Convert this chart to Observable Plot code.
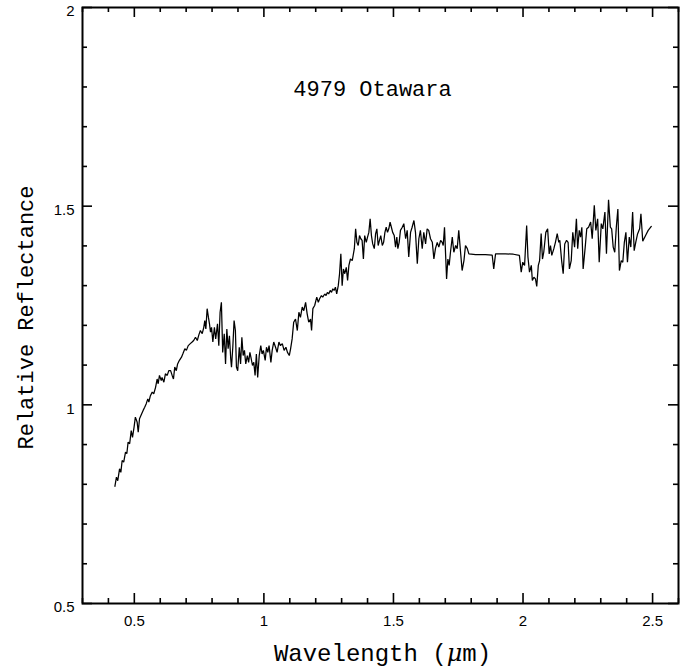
<!DOCTYPE html>
<html>
<head>
<meta charset="utf-8">
<script src="https://cdn.jsdelivr.net/npm/d3@7"></script>
<script src="https://cdn.jsdelivr.net/npm/@observablehq/plot@0.6"></script>
<style>
  html, body { margin: 0; padding: 0; background: white; }
</style>
</head>
<body>
<div id="chart"></div>
<script>
const wavelength = [
0.425,0.431,0.436,0.443,0.448,0.453,0.459,0.466,0.471,0.476,0.482,0.488,0.493,0.499,0.504,0.511,0.515,0.520,0.528,0.534,
0.540,0.546,0.552,0.556,0.562,0.569,0.575,0.582,0.588,0.592,0.597,0.604,0.607,0.614,0.620,0.627,0.633,0.640,0.646,0.651,
0.656,0.662,0.667,0.674,0.682,0.687,0.695,0.701,0.708,0.716,0.723,0.729,0.736,0.743,0.749,0.755,0.762,0.768,0.772,0.776,
0.781,0.786,0.790,0.794,0.798,0.803,0.809,0.814,0.821,0.826,0.831,0.836,0.841,0.847,0.852,0.857,0.862,0.867,0.872,0.875,
0.880,0.885,0.890,0.894,0.899,0.905,0.910,0.915,0.920,0.925,0.930,0.936,0.941,0.946,0.951,0.956,0.961,0.966,0.971,0.976,
0.982,0.988,0.993,0.998,1.005,1.010,1.015,1.020,1.027,1.032,1.038,1.045,1.051,1.058,1.064,1.071,1.078,1.085,1.091,1.098,
1.103,1.109,1.115,1.122,1.129,1.135,1.141,1.148,1.154,1.161,1.167,1.173,1.180,1.184,1.189,1.196,1.204,1.210,1.215,1.222,
1.227,1.235,1.240,1.245,1.250,1.256,1.261,1.266,1.271,1.276,1.281,1.287,1.292,1.297,1.302,1.307,1.312,1.318,1.323,1.328,
1.334,1.341,1.349,1.354,1.359,1.364,1.369,1.374,1.379,1.384,1.389,1.395,1.400,1.405,1.410,1.415,1.420,1.426,1.431,1.436,
1.441,1.446,1.451,1.457,1.462,1.467,1.472,1.477,1.482,1.487,1.492,1.497,1.503,1.508,1.513,1.517,1.522,1.527,1.534,1.540,
1.547,1.553,1.559,1.566,1.572,1.579,1.585,1.592,1.598,1.604,1.611,1.617,1.624,1.630,1.636,1.643,1.650,1.656,1.662,1.669,
1.675,1.682,1.688,1.692,1.697,1.705,1.710,1.715,1.720,1.727,1.733,1.740,1.746,1.752,1.759,1.765,1.772,1.778,1.785,1.791,
1.817,1.855,1.881,1.887,1.894,1.932,1.963,1.986,1.993,1.999,2.006,2.014,2.019,2.025,2.032,2.036,2.042,2.048,2.053,2.059,
2.064,2.070,2.075,2.080,2.088,2.095,2.101,2.106,2.111,2.119,2.125,2.132,2.138,2.142,2.149,2.155,2.161,2.168,2.174,2.179,
2.186,2.192,2.199,2.206,2.211,2.217,2.222,2.227,2.232,2.240,2.246,2.253,2.261,2.267,2.275,2.281,2.288,2.294,2.302,2.308,
2.316,2.322,2.330,2.337,2.342,2.348,2.354,2.360,2.366,2.372,2.379,2.385,2.391,2.397,2.403,2.410,2.416,2.423,2.429,2.435,
2.442,2.450,2.455,2.462,2.473,2.483,2.495
];
const reflectance = [
0.795,0.818,0.809,0.839,0.830,0.860,0.856,0.881,0.877,0.906,0.902,0.935,0.918,0.944,0.969,0.956,0.931,0.965,0.977,0.986,
0.994,1.003,1.015,1.007,1.023,1.032,1.028,1.044,1.065,1.053,1.074,1.061,1.069,1.057,1.078,1.074,1.086,1.086,1.074,1.065,
1.095,1.086,1.103,1.112,1.120,1.128,1.141,1.137,1.149,1.154,1.158,1.162,1.170,1.162,1.176,1.187,1.179,1.195,1.212,1.191,
1.242,1.220,1.204,1.183,1.195,1.158,1.195,1.166,1.204,1.149,1.233,1.258,1.132,1.179,1.103,1.191,1.141,1.174,1.116,1.095,
1.145,1.212,1.187,1.095,1.086,1.145,1.103,1.170,1.124,1.137,1.103,1.124,1.107,1.132,1.116,1.099,1.107,1.074,1.128,1.069,
1.124,1.149,1.128,1.137,1.112,1.145,1.132,1.149,1.107,1.137,1.158,1.145,1.132,1.158,1.149,1.154,1.137,1.145,1.132,1.124,
1.141,1.166,1.208,1.216,1.187,1.233,1.220,1.246,1.237,1.258,1.229,1.208,1.216,1.187,1.242,1.250,1.271,1.258,1.267,1.275,
1.271,1.279,1.275,1.283,1.279,1.288,1.283,1.292,1.288,1.296,1.279,1.300,1.330,1.380,1.300,1.342,1.330,1.346,1.313,1.351,
1.367,1.363,1.393,1.443,1.409,1.401,1.426,1.418,1.414,1.367,1.426,1.409,1.422,1.434,1.468,1.426,1.405,1.393,1.430,1.443,
1.401,1.414,1.426,1.401,1.409,1.434,1.447,1.434,1.443,1.460,1.447,1.434,1.426,1.397,1.422,1.393,1.409,1.439,1.447,1.456,
1.418,1.439,1.372,1.434,1.447,1.464,1.434,1.355,1.418,1.439,1.393,1.434,1.405,1.443,1.439,1.418,1.409,1.367,1.393,1.409,
1.397,1.414,1.409,1.401,1.447,1.317,1.367,1.351,1.384,1.422,1.384,1.401,1.393,1.439,1.384,1.338,1.363,1.401,1.393,1.380,
1.378,1.378,1.377,1.342,1.380,1.380,1.379,1.376,1.334,1.359,1.351,1.451,1.372,1.334,1.351,1.313,1.321,1.317,1.298,1.351,
1.363,1.431,1.367,1.384,1.434,1.443,1.380,1.401,1.376,1.393,1.409,1.431,1.409,1.414,1.363,1.330,1.405,1.414,1.409,1.342,
1.363,1.434,1.397,1.468,1.393,1.439,1.422,1.447,1.342,1.397,1.443,1.447,1.460,1.418,1.502,1.439,1.468,1.359,1.456,1.443,
1.485,1.380,1.516,1.447,1.443,1.397,1.384,1.447,1.493,1.338,1.363,1.359,1.409,1.434,1.359,1.422,1.397,1.485,1.388,1.409,
1.430,1.443,1.481,1.412,1.426,1.439,1.449
];
const xMajorTicks = [0.5, 1, 1.5, 2, 2.5];
const xMinorTicks = [0.3, 0.4, 0.6, 0.7, 0.8, 0.9, 1.1, 1.2, 1.3, 1.4, 1.6, 1.7, 1.8, 1.9, 2.1, 2.2, 2.3, 2.4, 2.6];
const yMajorTicks = [0.5, 1, 1.5, 2];
const yMinorTicks = [0.6, 0.7, 0.8, 0.9, 1.1, 1.2, 1.3, 1.4, 1.6, 1.7, 1.8, 1.9];
const titleText = "4979 Otawara";
const xLabel = "Wavelength (μm)";
const yLabel = "Relative Reflectance";

const spectrum = wavelength.map((w, i) => ({w, r: reflectance[i]}));

const W = 693, H = 668;
const mL = 82, mR = 15, mT = 7, mB = 65;
const fw = W - mL - mR, fh = H - mT - mB;
const major = 10, minor = 5;
const mono = "'Liberation Mono', 'DejaVu Sans Mono', monospace";

const chart = Plot.plot({
  width: W,
  height: H,
  marginLeft: mL,
  marginRight: mR,
  marginTop: mT,
  marginBottom: mB,
  style: {fontFamily: "'Liberation Sans', Arial, sans-serif", fontSize: "15px", background: "white", color: "black", overflow: "visible"},
  x: {domain: [0.3, 2.6]},
  y: {domain: [0.5, 2]},
  marks: [
    Plot.line(spectrum, {x: "w", y: "r", stroke: "black", strokeWidth: 1.25, strokeLinejoin: "miter"}),
    // bottom / top x ticks (inward)
    Plot.tickX(xMajorTicks, {x: d => d, insetTop: fh - major, strokeWidth: 1.6}),
    Plot.tickX(xMajorTicks, {x: d => d, insetBottom: fh - major, strokeWidth: 1.6}),
    Plot.tickX(xMinorTicks, {x: d => d, insetTop: fh - minor, strokeWidth: 1.6}),
    Plot.tickX(xMinorTicks, {x: d => d, insetBottom: fh - minor, strokeWidth: 1.6}),
    // left / right y ticks (inward)
    Plot.tickY(yMajorTicks, {y: d => d, insetRight: fw - major, strokeWidth: 1.6}),
    Plot.tickY(yMajorTicks, {y: d => d, insetLeft: fw - major, strokeWidth: 1.6}),
    Plot.tickY(yMinorTicks, {y: d => d, insetRight: fw - minor, strokeWidth: 1.6}),
    Plot.tickY(yMinorTicks, {y: d => d, insetLeft: fw - minor, strokeWidth: 1.6}),
    Plot.frame({stroke: "black", strokeWidth: 2}),
    Plot.axisX(xMajorTicks, {tickSize: 0, tickPadding: 12, tickFormat: d => String(d), label: null, fontSize: 15}),
    Plot.axisY(yMajorTicks, {tickSize: 0, tickPadding: 8, dy: 4, tickFormat: d => String(d), label: null, fontSize: 15}),
    Plot.text([titleText], {frameAnchor: "top", dy: 73, dx: -8, text: d => d, fontFamily: mono, fontSize: 22}),
    Plot.text([xLabel], {frameAnchor: "bottom", dy: 57, dx: 2, text: d => d, fontFamily: mono, fontSize: 24, className: "xlab"}),
    Plot.text([yLabel], {frameAnchor: "left", dx: -57, dy: 12, rotate: -90, textAnchor: "middle", text: d => d, fontFamily: mono, fontSize: 22})
  ]
});

// make the mu italic (math style)
d3.select(chart).selectAll("g.xlab text").each(function() {
  const t = d3.select(this);
  const s = t.text();
  const i = s.indexOf("μ");
  if (i >= 0) {
    t.text(null);
    t.append("tspan").text(s.slice(0, i));
    t.append("tspan").attr("font-style", "italic").attr("font-family", "'DejaVu Serif', 'Liberation Serif', serif").text("μ");
    t.append("tspan").text(s.slice(i + 1));
  }
});

document.getElementById("chart").appendChild(chart);
</script>
</body>
</html>
